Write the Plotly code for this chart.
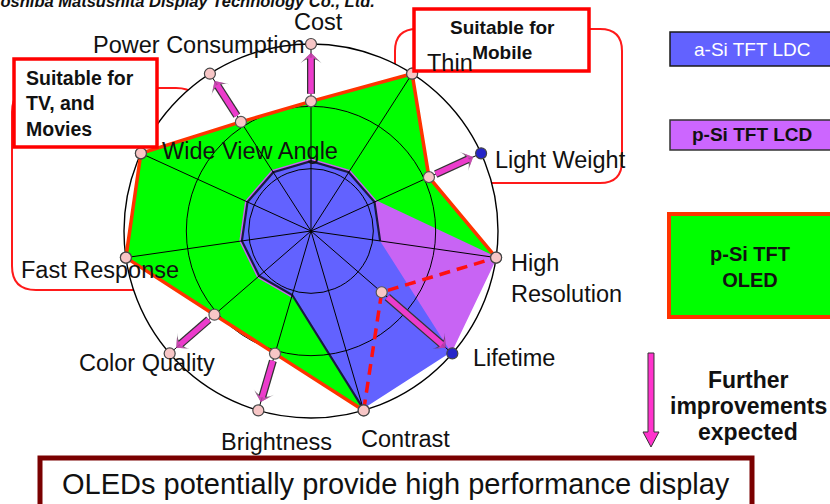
import plotly.graph_objects as go

# ---------------------------------------------------------------------------
# Data: display technology attributes on an 11-spoke radar (0 = poor, 3 = best)
# ---------------------------------------------------------------------------
categories = ["Cost", "Thin", "Light Weight", "High Resolution", "Lifetime",
              "Contrast", "Brightness", "Color Quality", "Fast Response",
              "Wide View Angle", "Power Consumption"]

a_si_tft_lcd = [1.12, 1.12, 1.12, 1.12, 2.97, 2.97, 1.07, 1.10, 1.12, 1.12, 1.12]
p_si_tft_lcd = [1.15, 1.15, 1.15, 3.00, 2.97, 1.15, 1.10, 1.13, 1.15, 1.15, 1.15]
p_si_tft_oled = [2.08, 3.00, 2.08, 3.00, 1.50, 3.00, 2.05, 2.05, 3.00, 3.00, 2.08]
oled_expected = [3.00, 3.00, 3.00, 3.00, 3.00, 3.00, 3.00, 3.00, 3.00, 3.00, 3.00]

legend_labels = ["a-Si TFT LDC", "p-Si TFT LCD", "p-Si TFT<br>OLED"]

# ---------------------------------------------------------------------------
# Styling
# ---------------------------------------------------------------------------
W, H = 830, 504
FONT = "Liberation Sans, Arial, Helvetica, sans-serif"
BLUE = "#6262ff"
PURPLE = "#c864f4"
GREEN = "#00ff00"
OUTLINE = "#ff3300"
PINK_DOT = "#f7c6c6"
BLUE_DOT = "#2424c8"
ARROW = "#ec3ccc"
DARK = "#333333"
outer_dot_color = {"Light Weight": BLUE_DOT, "Lifetime": BLUE_DOT}


def px(x, y):
    """Pixel position -> paper coordinates."""
    return x / W, 1 - y / H


def path_from(points, close=True):
    parts = []
    for cmd, pts in points:
        coords = " ".join(f"{px(x, y)[0]:.5f},{px(x, y)[1]:.5f}" for x, y in pts)
        parts.append(f"{cmd}{coords}")
    return " ".join(parts) + (" Z" if close else "")


def rounded_rect(x0, y0, x1, y1, r):
    return path_from([
        ("M", [(x0 + r, y0)]), ("L", [(x1 - r, y0)]), ("Q", [(x1, y0), (x1, y0 + r)]),
        ("L", [(x1, y1 - r)]), ("Q", [(x1, y1), (x1 - r, y1)]), ("L", [(x0 + r, y1)]),
        ("Q", [(x0, y1), (x0, y1 - r)]), ("L", [(x0, y0 + r)]), ("Q", [(x0, y0), (x0 + r, y0)]),
    ])


def ring(values, order):
    return [values[i] for i in order], [categories[i] for i in order]


n = len(categories)
closed = list(range(n)) + [0]

fig = go.Figure()

# --- filled areas (bottom polar layer) ---
r, t = ring(p_si_tft_oled, closed)
fig.add_trace(go.Scatterpolar(r=r, theta=t, fill="toself", fillcolor=GREEN,
                              mode="lines", line=dict(width=0, color=GREEN),
                              name="p-Si TFT OLED", subplot="polar"))
r, t = ring(p_si_tft_lcd, closed)
fig.add_trace(go.Scatterpolar(r=r, theta=t, fill="toself", fillcolor=PURPLE,
                              mode="lines", line=dict(width=1.5, color=PURPLE),
                              name="p-Si TFT LCD", subplot="polar"))
r, t = ring(a_si_tft_lcd, closed)
fig.add_trace(go.Scatterpolar(r=r, theta=t, fill="toself", fillcolor=BLUE,
                              mode="lines", line=dict(width=0, color=BLUE),
                              name="a-Si TFT LCD", subplot="polar"))
# dark rim of the a-Si area
rim_order = [3, 2, 1, 0, 10, 9, 8, 7, 6, 5]
r, t = ring(a_si_tft_lcd, rim_order)
fig.add_trace(go.Scatterpolar(r=r, theta=t, mode="lines",
                              line=dict(width=2.2, color="#1a1a40"),
                              subplot="polar", hoverinfo="skip"))

# --- grid layer (middle polar layer, only axes are visible) ---
fig.add_trace(go.Scatterpolar(r=[0], theta=[categories[0]], mode="markers",
                              marker=dict(size=0, opacity=0), subplot="polar2",
                              hoverinfo="skip"))

# --- outlines, arrows and dots (top polar layer) ---
outline_order = [3, 2, 1, 0, 10, 9, 8, 7, 6, 5]
r, t = ring(p_si_tft_oled, outline_order)
fig.add_trace(go.Scatterpolar(r=r, theta=t, mode="lines",
                              line=dict(width=3.5, color=OUTLINE),
                              subplot="polar3", hoverinfo="skip"))
r, t = ring(p_si_tft_oled, [5, 4, 3])
fig.add_trace(go.Scatterpolar(r=r, theta=t, mode="lines",
                              line=dict(width=3.5, color="#ff1010", dash="11px,7px"),
                              subplot="polar3", hoverinfo="skip"))

for i, cat in enumerate(categories):
    lo, hi = p_si_tft_oled[i], oled_expected[i]
    if hi - lo < 0.3:
        continue
    rr = [lo + 0.12, hi - 0.14]
    tt = [cat, cat]
    fig.add_trace(go.Scatterpolar(
        r=rr, theta=tt, mode="lines+markers", subplot="polar3", hoverinfo="skip",
        line=dict(width=8, color=DARK),
        marker=dict(symbol=["circle", "arrow-wide"], size=[0, 15], color=DARK,
                    angleref="previous", line=dict(width=0))))
    fig.add_trace(go.Scatterpolar(
        r=rr, theta=tt, mode="lines+markers", subplot="polar3", hoverinfo="skip",
        line=dict(width=5.5, color=ARROW),
        marker=dict(symbol=["circle", "arrow-wide"], size=[0, 12], color=ARROW,
                    angleref="previous", line=dict(width=0))))

fig.add_trace(go.Scatterpolar(
    r=p_si_tft_oled, theta=categories, mode="markers", subplot="polar3",
    marker=dict(size=11, color=PINK_DOT, line=dict(width=1.2, color="#555555")),
    hoverinfo="skip"))
fig.add_trace(go.Scatterpolar(
    r=oled_expected, theta=categories, mode="markers", subplot="polar3",
    marker=dict(size=11, color=[outer_dot_color.get(c, PINK_DOT) for c in categories],
                line=dict(width=1.2, color="#444444")),
    hoverinfo="skip"))

# ---------------------------------------------------------------------------
# Polar layout: three stacked subplots sharing one domain
# ---------------------------------------------------------------------------
domain = dict(x=[124 / W, 498 / W], y=[1 - 418 / H, 1 - 44 / H])
angular_common = dict(type="category", categoryarray=categories, categoryorder="array",
                      rotation=90, direction="clockwise", showticklabels=False, ticks="")
hidden_polar = dict(domain=domain, bgcolor="rgba(0,0,0,0)",
                    radialaxis=dict(range=[0, 3], visible=False),
                    angularaxis=dict(**angular_common, visible=False))

fig.update_layout(
    width=W, height=H, margin=dict(l=0, r=0, t=0, b=0),
    paper_bgcolor="white", showlegend=False,
    polar=dict(hidden_polar, bgcolor="white"),
    polar2=dict(
        domain=domain, bgcolor="rgba(0,0,0,0)",
        radialaxis=dict(range=[0, 3], tickvals=[1, 2], showticklabels=False, ticks="",
                        showline=False, gridcolor="black", gridwidth=1.1),
        angularaxis=dict(**angular_common, showgrid=True, gridcolor="black", gridwidth=1.1,
                         showline=True, linecolor="black", linewidth=1.4),
    ),
    polar3=hidden_polar,
)

# ---------------------------------------------------------------------------
# Shapes: group brackets, call-out boxes, legend swatches, banner
# ---------------------------------------------------------------------------
shapes = []
red_line = dict(color="#ff1a1a", width=2)
# brackets sit under the chart background
shapes.append(dict(type="path", path=rounded_rect(395, 29, 622, 183, 22),
                   line=red_line, layer="below", xref="paper", yref="paper"))
shapes.append(dict(type="path", path=rounded_rect(12, 88, 200, 290, 24),
                   line=red_line, layer="below", xref="paper", yref="paper"))


def rect(x0, y0, x1, y1, fill, color, width):
    (a, b), (c, d) = px(x0, y0), px(x1, y1)
    return dict(type="rect", x0=a, y0=d, x1=c, y1=b, xref="paper", yref="paper",
                fillcolor=fill, line=dict(color=color, width=width), layer="above")


shapes.append(rect(414, 9, 589, 71, "white", "#ff0000", 3.5))
shapes.append(rect(14, 59, 157, 147, "white", "#ff0000", 3.5))
shapes.append(rect(670, 32, 850, 66, BLUE, "#1a1a1a", 1.5))
shapes.append(rect(670, 120, 850, 150, "#cc66ff", "#333333", 1.5))
shapes.append(rect(669, 214, 850, 317, GREEN, OUTLINE, 4))
shapes.append(rect(40, 458, 752, 520, "white", "#7a0000", 5))
shapes.append(dict(type="path", xref="paper", yref="paper", layer="above",
                   path=path_from([("M", [(648, 353)]), ("L", [(654, 353)]), ("L", [(654, 432)]),
                                   ("L", [(659, 432)]), ("L", [(651, 447)]), ("L", [(643, 432)]),
                                   ("L", [(648, 432)])]),
                   fillcolor="#ff33cc", line=dict(color=DARK, width=1)))
fig.update_layout(shapes=shapes)

# ---------------------------------------------------------------------------
# Text
# ---------------------------------------------------------------------------
annotations = []


def text(s, x, y, size, color="#111111", bold=False, xanchor="center", align="center",
         italic=False):
    ax, ay = px(x, y)
    annotations.append(dict(
        text=s, x=ax, y=ay, xref="paper", yref="paper", showarrow=False,
        xanchor=xanchor, yanchor="middle", align=align,
        font=dict(family=FONT, size=size, color=color,
                  weight="bold" if bold else "normal",
                  style="italic" if italic else "normal")))


axis_label_pos = {
    "Cost": (318, 22), "Thin": (450, 63), "Light Weight": (560, 160),
    "Lifetime": (514, 358), "Contrast": (405, 439), "Brightness": (276, 442),
    "Color Quality": (147, 363), "Fast Response": (100, 270),
    "Wide View Angle": (250, 151), "Power Consumption": (199, 45),
}
for cat in categories:
    if cat in axis_label_pos:
        text(cat, *axis_label_pos[cat], 23.5)
high, res = categories[3].split(" ")
text(high, 509, 263, 23.5, xanchor="left")
text(res, 509, 294, 23.5, xanchor="left")

text("Suitable for<br>Mobile", 502, 40, 19, bold=True)
text("Suitable for<br>TV, and<br>Movies", 24, 104, 19.5, bold=True, xanchor="left",
     align="left")

text(legend_labels[0], 752, 50, 19, color="white")
text(legend_labels[1], 752, 135, 19, bold=True)
text(legend_labels[2], 750, 267, 20, bold=True)

text("Further", 748, 380, 23, bold=True)
text("improvements", 748, 406, 23, bold=True)
text("expected", 748, 432, 23, bold=True)

text("OLEDs potentially provide high performance display", 396, 484, 29)
text("Toshiba Matsushita Display Technology Co., Ltd.", 377, 1, 16.5, bold=True,
     italic=True, xanchor="right")

fig.update_layout(annotations=annotations)

fig.write_html("out.html")
